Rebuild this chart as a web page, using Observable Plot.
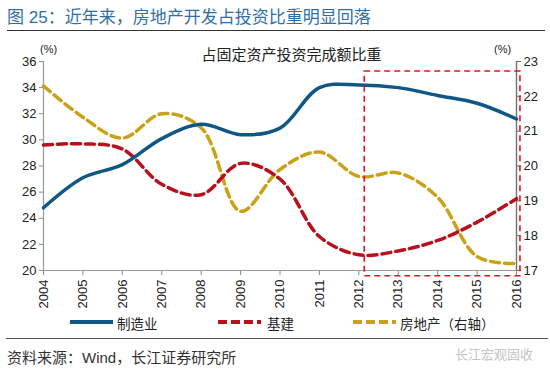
<!DOCTYPE html>
<html>
<head>
<meta charset="utf-8">
<script src="https://cdn.jsdelivr.net/npm/d3@7"></script>
<script src="https://cdn.jsdelivr.net/npm/@observablehq/plot@0.6"></script>
<style>
  html, body { margin: 0; padding: 0; background: #fff; }
  body { width: 550px; height: 371px; position: relative; overflow: hidden;
         font-family: "Liberation Sans", "Noto Sans CJK SC", sans-serif; }
  .abs { position: absolute; white-space: nowrap; }
  #chart { position: absolute; left: 0; top: 0; }
</style>
</head>
<body>
<div class="abs" id="title" style="left:7px; top:3px; font-size:17px; color:#2f6fa6;"></div>
<div class="abs" style="left:7px; top:30px; width:538px; height:0; border-top:1.6px solid #333;"></div>
<div id="chart"></div>
<div class="abs" id="subtitle" style="left:0; width:550px; top:43px; text-align:center; padding-left:33px; box-sizing:border-box; font-size:15px; color:#222;"></div>
<div class="abs" style="left:40px; top:43px; font-size:11px; color:#222;">(%)</div>
<div class="abs" style="left:494px; top:43px; font-size:11px; color:#222;">(%)</div>
<div class="abs" id="legend" style="left:0; top:313px; width:550px; height:20px; font-size:13.5px; color:#222;"></div>
<div class="abs" style="left:6px; top:338px; width:542px; height:0; border-top:1.6px solid #555;"></div>
<div class="abs" id="source" style="left:7px; top:346px; font-size:15px; color:#333;"></div>
<div class="abs" id="mark" style="left:455px; top:344px; font-size:13px; color:#c4c4c4;"></div>
<script>
// ---- data ----
const years = [2004, 2005, 2006, 2007, 2008, 2009, 2010, 2011, 2012, 2013, 2014, 2015, 2016];
const manufacturing = [24.8, 27.1, 28.1, 30.1, 31.2, 30.4, 30.9, 34.0, 34.2, 34.0, 33.4, 32.8, 31.6];
const infrastructure = [29.6, 29.7, 29.3, 26.6, 25.8, 28.2, 27.0, 22.6, 21.2, 21.5, 22.3, 23.7, 25.5];
const realEstate = [22.3, 21.4, 20.8, 21.5, 21.1, 18.7, 19.9, 20.4, 19.7, 19.8, 19.1, 17.4, 17.2];
const leftTicks = [20, 22, 24, 26, 28, 30, 32, 34, 36];
const rightTicks = [17, 18, 19, 20, 21, 22, 23];
const seriesNames = ["制造业", "基建", "房地产（右轴）"];
const highlight = {x1: 2012.15, x2: 2016.1, y1: 19.56, y2: 35.23};
const titleText = "图 25：近年来，房地产开发占投资比重明显回落";
const subtitleText = "占固定资产投资完成额比重";
const sourceText = "资料来源：Wind，长江证券研究所";
const markText = "长江宏观固收";

// ---- scales ----
const L0 = 20, L1 = 36, R0 = 17, R1 = 23;
const toLeft = v => L0 + (v - R0) * (L1 - L0) / (R1 - R0);
const fromLeft = v => R0 + (v - L0) * (R1 - R0) / (L1 - L0);

const colors = ["#115786", "#b8101c", "#c9a21a"];

const rows = (vals, name, conv = v => v) => years.map((y, i) => ({year: y, value: conv(vals[i]), name}));
const dManu = rows(manufacturing, seriesNames[0]);
const dInfra = rows(infrastructure, seriesNames[1]);
const dRE = rows(realEstate, seriesNames[2], toLeft);

const plot = Plot.plot({
  width: 550,
  height: 315,
  marginTop: 61,
  marginBottom: 45,
  marginLeft: 43,
  marginRight: 34,
  style: {fontFamily: '"Liberation Sans", "Noto Sans CJK SC", sans-serif', fontSize: "13px", color: "#222", background: "transparent"},
  x: {domain: [2004, 2016]},
  y: {domain: [L0, L1]},
  marks: [
    Plot.axisY({ticks: leftTicks, tickSize: 4, tickPadding: 3, stroke: "#888", label: null, fontSize: 13}),
    Plot.axisY({anchor: "right", ticks: rightTicks.map(toLeft), tickFormat: v => String(Math.round(fromLeft(v))), tickSize: 4, tickPadding: 3, stroke: "#666", label: null, fontSize: 13}),
    Plot.axisX({ticks: years, tickFormat: d => String(d), tickRotate: -90, tickSize: 5, tickPadding: 4, stroke: "#888", label: null, fontSize: 13}),
    Plot.ruleX([2004], {stroke: "#999", strokeWidth: 1.2}),
    Plot.ruleX([2016], {stroke: "#777", strokeWidth: 1.5}),
    Plot.ruleY([L0], {stroke: "#999", strokeWidth: 1.2}),
    Plot.line(dRE, {x: "year", y: "value", stroke: colors[2], strokeWidth: 3.5, strokeDasharray: "9,5", curve: "catmull-rom"}),
    Plot.line(dInfra, {x: "year", y: "value", stroke: colors[1], strokeWidth: 3.5, strokeDasharray: "9,5", curve: "catmull-rom"}),
    Plot.line(dManu, {x: "year", y: "value", stroke: colors[0], strokeWidth: 3.5, curve: "catmull-rom"}),
    Plot.rect([highlight], {x1: "x1", x2: "x2", y1: "y1", y2: "y2", fill: "none", stroke: "#e3141f", strokeWidth: 1.6, strokeDasharray: "6,4", clip: false})
  ]
});
document.getElementById("chart").appendChild(plot);

document.getElementById("title").textContent = titleText;
document.getElementById("subtitle").textContent = subtitleText;
document.getElementById("source").textContent = sourceText;
document.getElementById("mark").textContent = markText;

// legend
const legendPos = [{x: 70, tx: 117}, {x: 218, tx: 267}, {x: 353, tx: 400}];
const lg = document.getElementById("legend");
seriesNames.forEach((name, i) => {
  const sw = document.createElementNS("http://www.w3.org/2000/svg", "svg");
  sw.setAttribute("width", "44"); sw.setAttribute("height", "10");
  sw.style.position = "absolute"; sw.style.left = legendPos[i].x + "px"; sw.style.top = "4px";
  const ln = document.createElementNS("http://www.w3.org/2000/svg", "line");
  ln.setAttribute("x1", "0"); ln.setAttribute("x2", "43"); ln.setAttribute("y1", "5"); ln.setAttribute("y2", "5");
  ln.setAttribute("stroke", colors[i]); ln.setAttribute("stroke-width", "4");
  if (i > 0) ln.setAttribute("stroke-dasharray", "9,4");
  sw.appendChild(ln);
  lg.appendChild(sw);
  const t = document.createElement("div");
  t.className = "abs"; t.style.left = legendPos[i].tx + "px"; t.style.top = "0px";
  t.textContent = name;
  lg.appendChild(t);
});
</script>
</body>
</html>
